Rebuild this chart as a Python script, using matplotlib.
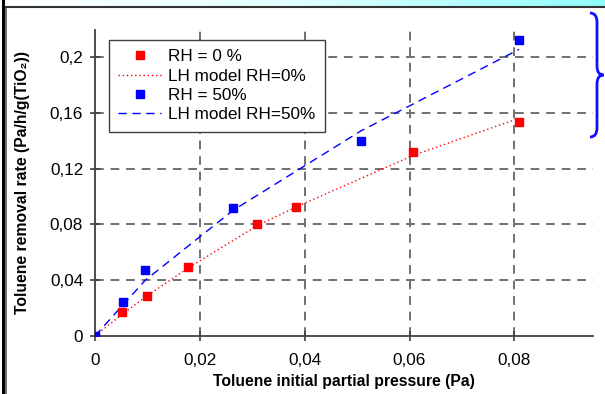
import numpy as np
import matplotlib
matplotlib.use("Agg")
import matplotlib.pyplot as plt
from matplotlib.path import Path
from matplotlib.patches import PathPatch
from matplotlib.lines import Line2D

plt.rcParams['font.family'] = ['Liberation Sans', 'DejaVu Sans']

# measured removal rates
p_rh0 = [0, 0.0052, 0.0099, 0.0177, 0.0309, 0.0383, 0.0607, 0.0808]
r_rh0 = [0, 0.0172, 0.0287, 0.0493, 0.0803, 0.0927, 0.1317, 0.1536]
p_rh50 = [0, 0.0053, 0.0096, 0.0263, 0.0507, 0.0809]
r_rh50 = [0, 0.0246, 0.0473, 0.0919, 0.1398, 0.2124]

# LH model values at the measured pressures
lh_rh0 = [0, 0.0156, 0.0287, 0.0486, 0.0790, 0.0924, 0.1295, 0.1560]
lh_rh50 = [0, 0.0222, 0.0400, 0.0900, 0.1470, 0.2055]

xticks = [0, 0.02, 0.04, 0.06, 0.08]
xtick_labels = ['0', '0,02', '0,04', '0,06', '0,08']
yticks = [0, 0.04, 0.08, 0.12, 0.16, 0.2]
ytick_labels = ['0', '0,04', '0,08', '0,12', '0,16', '0,2']

W, H = 605, 394
fig = plt.figure(figsize=(W / 100, H / 100), dpi=100)
fig.patch.set_facecolor('white')

def fx(px):
    return px / W

def fy(py):
    return 1 - py / H

# top strip, white fading to cyan
strip = fig.add_axes([0, fy(6), 1, 6 / H])
strip.imshow(np.linspace(0, 1, 256)[None, :], aspect='auto',
             cmap=matplotlib.colors.LinearSegmentedColormap.from_list('c', ['#ffffff', '#e0ffff', '#90fbfb']),
             extent=[0, 1, 0, 1])
strip.set_axis_off()

# frame lines on the left and under the strip
fig.add_artist(Line2D([fx(2.5), fx(2.5)], [0, 1], color='black', lw=2.2))
fig.add_artist(Line2D([fx(6), fx(6)], [0, fy(6.5)], color='#555555', lw=1.2))
fig.add_artist(Line2D([fx(6), 1], [fy(6.5), fy(6.5)], color='#333333', lw=1.5))

ax = fig.add_axes([fx(95), fy(336), fx(593) - fx(95), fy(30) - fy(336)])
ax.set_xlim(0, 0.095)
ax.set_ylim(0, 0.2194)

grid_kw = dict(color='#707070', lw=1.4, dashes=(4.5, 3.5), zorder=1)
for x in xticks[1:]:
    ax.axvline(x, **grid_kw)
for y in yticks[1:]:
    ax.axhline(y, **grid_kw)

ax.plot(p_rh0, r_rh0, ls='none', marker='s', ms=6, color='#ff0000', label='RH = 0 %', zorder=4)
ax.plot(p_rh0, lh_rh0, ls=(0, (1, 2)), lw=1.0, color='#ff0000', label='LH model RH=0%', zorder=3)
ax.plot(p_rh50, r_rh50, ls='none', marker='s', ms=6, color='#0000ff', label='RH = 50%', zorder=4)
ax.plot(p_rh50, lh_rh50, ls=(0, (6, 4)), lw=1.0, color='#0000ff', label='LH model RH=50%', zorder=3)

for side in ['top', 'right']:
    ax.spines[side].set_visible(False)
for side in ['left', 'bottom']:
    ax.spines[side].set_color('#404040')
    ax.spines[side].set_linewidth(1.3)

ax.set_xticks(xticks)
ax.set_xticklabels(xtick_labels)
ax.set_yticks(yticks)
ax.set_yticklabels(ytick_labels)
ax.tick_params(direction='inout', length=7, width=1.2, color='#404040', labelsize=12.3, pad=5)
ax.tick_params(axis='x', pad=9)

ax.set_xlabel('Toluene initial partial pressure (Pa)', fontsize=11.3, fontweight='bold', labelpad=4)
ax.set_ylabel('Toluene removal rate (Pa/h/g(TiO\u2082))', fontsize=11.3, fontweight='bold', labelpad=14)

leg = ax.legend(loc='upper left', bbox_to_anchor=(fx(109), fy(40)), bbox_transform=fig.transFigure,
                fontsize=12.3, frameon=True, fancybox=False, framealpha=1, edgecolor='#404040',
                handlelength=2.5, handletextpad=0.4, labelspacing=0.25, borderpad=0.55,
                borderaxespad=0)
leg.get_frame().set_linewidth(1.0)
leg.set_zorder(5)

# curly brace on the right edge
bx, tip = 597, 603.5
verts = [(590, 13), (597, 13), (bx, 22),
         (bx, 66),
         (bx, 75), (tip, 75),
         (bx, 75), (bx, 84),
         (bx, 128),
         (bx, 137), (590, 137)]
codes = [Path.MOVETO, Path.CURVE3, Path.CURVE3,
         Path.LINETO,
         Path.CURVE3, Path.CURVE3,
         Path.CURVE3, Path.CURVE3,
         Path.LINETO,
         Path.CURVE3, Path.CURVE3]
brace = Path([(fx(a), fy(b)) for a, b in verts], codes)
fig.add_artist(PathPatch(brace, transform=fig.transFigure, fill=False, edgecolor='#1010ff', lw=2.0))

fig.savefig('out.png', dpi=100)
